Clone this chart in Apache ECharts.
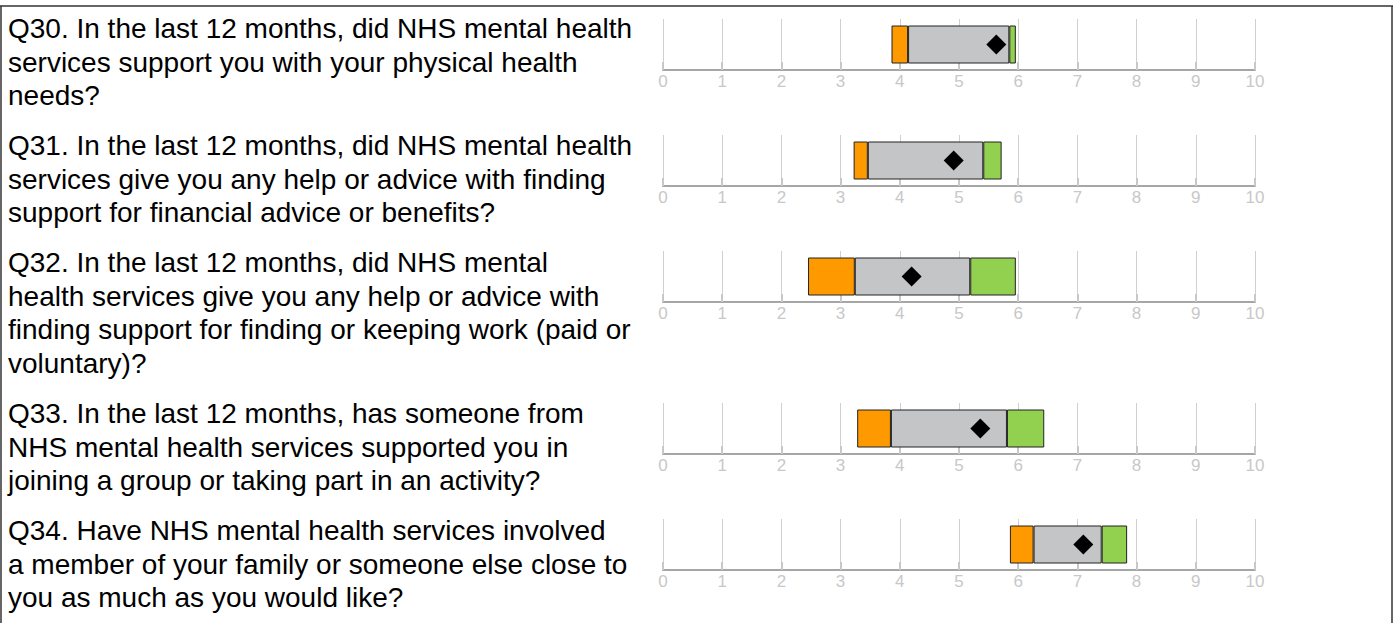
<!DOCTYPE html>
<html>
<head>
<meta charset="utf-8">
<script src="https://cdn.jsdelivr.net/npm/echarts@6/dist/echarts.min.js"></script>
<style>
html,body{margin:0;padding:0;background:#fff;}
#chart{width:1393px;height:623px;}
</style>
</head>
<body>
<div id="chart"></div>
<script>
// ---- data ----
var questions = [
  "Q30. In the last 12 months, did NHS mental health\nservices support you with your physical health\nneeds?",
  "Q31. In the last 12 months, did NHS mental health\nservices give you any help or advice with finding\nsupport for financial advice or benefits?",
  "Q32. In the last 12 months, did NHS mental\nhealth services give you any help or advice with\nfinding support for finding or keeping work (paid or\nvoluntary)?",
  "Q33. In the last 12 months, has someone from\nNHS mental health services supported you in\njoining a group or taking part in an activity?",
  "Q34. Have NHS mental health services involved\na member of your family or someone else close to\nyou as much as you would like?"
];
var rangeLow   = [3.86, 3.22, 2.45, 3.28, 5.86];
var orangeEnd  = [4.14, 3.46, 3.24, 3.85, 6.26];
var greyEnd    = [5.85, 5.41, 5.19, 5.81, 7.41];
var rangeHigh  = [5.96, 5.72, 5.96, 6.44, 7.84];
var scores     = [5.63, 4.91, 4.20, 5.36, 7.10];
var tickLabels = ["0","1","2","3","4","5","6","7","8","9","10"];

// ---- layout ----
var axisY = [70, 186, 302, 454, 570];
var textTop = [12, 129, 246, 397, 514];
var gridH = 51;
var font = "'Liberation Sans', Arial, Helvetica, sans-serif";

var grids = [], xAxes = [], yAxes = [], series = [], graphics = [];
for (var i = 0; i < questions.length; i++) {
  grids.push({left: 663, right: 138, top: axisY[i] - gridH, height: gridH, containLabel: false});
  xAxes.push({
    type: 'value', gridIndex: i, min: 0, max: 10, interval: 1,
    axisLine: {show: true, lineStyle: {color: '#a6a6a6', width: 2}},
    axisTick: {show: true, inside: true, length: 8, lineStyle: {color: '#c8c8c8', width: 2}},
    splitLine: {show: true, lineStyle: {color: '#d0d0d0', width: 1}},
    axisLabel: {color: '#c8c8c8', fontSize: 17, margin: 3, fontFamily: font,
      formatter: function (v) { return tickLabels[Math.round(v)]; }}
  });
  yAxes.push({type: 'category', gridIndex: i, data: [''], show: false});
  var segs = [
    {v: rangeLow[i], color: 'transparent', border: 0},
    {v: orangeEnd[i] - rangeLow[i], color: '#FF9900', border: 1},
    {v: greyEnd[i] - orangeEnd[i], color: '#C4C5C6', border: 1},
    {v: rangeHigh[i] - greyEnd[i], color: '#92D050', border: 1}
  ];
  segs.forEach(function (s) {
    series.push({
      type: 'bar', xAxisIndex: i, yAxisIndex: i, stack: 'r' + i, barWidth: 38,
      silent: true, animation: false,
      itemStyle: {color: s.color, borderColor: s.border ? '#222' : 'transparent', borderWidth: s.border},
      data: [s.v]
    });
  });
  series.push({
    type: 'scatter', xAxisIndex: i, yAxisIndex: i, symbol: 'diamond', symbolSize: [20, 20],
    itemStyle: {color: '#000', opacity: 1}, z: 5, animation: false,
    data: [[scores[i], 0]]
  });
  graphics.push({
    type: 'text', left: 8, top: textTop[i],
    style: {text: questions[i], fill: '#000', fontSize: 28, fontFamily: font, lineHeight: 33.5}
  });
}
graphics.push({type: 'line', shape: {x1: 0, y1: 6, x2: 1393, y2: 6}, style: {stroke: '#333', lineWidth: 1.5}});
graphics.push({type: 'line', shape: {x1: 1, y1: 6, x2: 1, y2: 623}, style: {stroke: '#333', lineWidth: 1.5}});
graphics.push({type: 'line', shape: {x1: 1392, y1: 6, x2: 1392, y2: 623}, style: {stroke: '#333', lineWidth: 1.5}});

var chart = echarts.init(document.getElementById('chart'), null, {renderer: 'svg'});
chart.setOption({
  animation: false,
  grid: grids, xAxis: xAxes, yAxis: yAxes, series: series, graphic: graphics
});
</script>
</body>
</html>
